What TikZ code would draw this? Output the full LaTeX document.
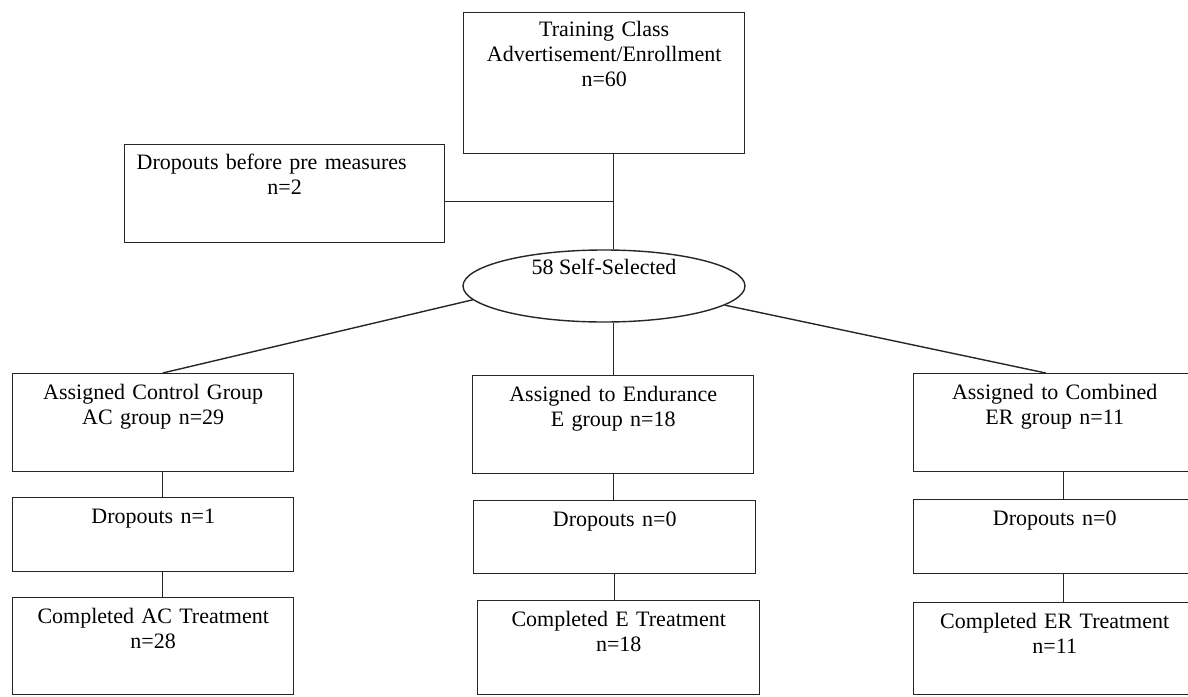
\documentclass[tikz,border=0pt]{standalone}
\usepackage{fontspec}
\setmainfont{Liberation Serif}
\usetikzlibrary{shapes,shapes.geometric,calc}
\tikzset{
  flownode/.style = {align=center, font=\fontsize{11pt}{12.5pt}\selectfont, draw=black!85, line width=0.7pt, inner xsep=0pt, inner ysep=0pt},
  flow_box/.style = {flownode, rectangle, anchor=north west, text height=13pt},
  flow_ell/.style = {flownode, ellipse, minimum width=141pt, minimum height=36pt, text height=6pt, text depth=18pt},
  flow_line/.style = {draw=black!85, line width=0.7pt}
}
\begin{document}
\begin{tikzpicture}[x=0.5pt,y=-0.5pt]
	\useasboundingbox (0,0) rectangle (1188,696);
	\clip (0,0) rectangle (1188,696);
	\node [flow_box, text height=12pt, text width=140.5pt, text depth=58.5pt] (train) at (463,12) {Training Class\\Advertisement/Enrollment\\n=60};
	\node [flow_box, text height=12.5pt, text width=160pt, text depth=36.5pt] (drop0) at (124,144) {\mbox{Dropouts before pre measures\hspace{13pt}}\\n=2};
	\node [flow_ell] (self) at (604,286) {58 Self-Selected};

	\node [flow_box, text width=140.5pt, text depth=36pt] (ac1) at (12,373) {Assigned Control Group\\AC group n=29};
	\node [flow_box, text width=140.5pt, text depth=24pt] (ac2) at (12,497) {Dropouts n=1};
	\node [flow_box, text width=140.5pt, text depth=35.5pt] (ac3) at (12,597) {Completed AC Treatment\\n=28};

	\node [flow_box, text width=140.5pt, text depth=36pt] (e1) at (472,375) {Assigned to Endurance\\E group n=18};
	\node [flow_box, text width=141pt, text depth=23.5pt] (e2) at (473,500) {Dropouts n=0};
	\node [flow_box, text width=141pt, text depth=34pt] (e3) at (477,600) {Completed E Treatment\\n=18};

	\node [flow_box, text width=141pt, text depth=36pt] (er1) at (913,373) {Assigned to Combined\\ER group n=11};
	\node [flow_box, text width=141pt, text depth=24pt] (er2) at (913,499) {Dropouts n=0};
	\node [flow_box, text width=141pt, text depth=33pt] (er3) at (913,602) {Completed ER Treatment\\n=11};

	\coordinate (trunk) at ([xshift=4.75pt]train.south);
	\draw [flow_line] (trunk) -- (trunk |- self.north);
	\draw [flow_line] ([yshift=-4pt]drop0.east) -- ([yshift=-4pt]drop0.east -| trunk);
	\draw [flow_line] (self.186) -- ([xshift=4.75pt]ac1.north);
	\draw [flow_line] (self.south -| e1.north) -- (e1.north);
	\draw [flow_line] (self.351) -- ([xshift=-4.5pt]er1.north);

	\draw [flow_line] ([xshift=4.75pt]ac1.south) -- ([xshift=4.75pt]ac2.north);
	\draw [flow_line] ([xshift=4.75pt]ac2.south) -- ([xshift=4.75pt]ac3.north);
	\draw [flow_line] (e1.south) -- (e1.south |- e2.north);
	\draw [flow_line] (e2.south) -- (e2.south |- e3.north);
	\draw [flow_line] ([xshift=4.5pt]er1.south) -- ([xshift=4.5pt]er2.north);
	\draw [flow_line] ([xshift=4.5pt]er2.south) -- ([xshift=4.5pt]er3.north);
\end{tikzpicture}
\end{document}
